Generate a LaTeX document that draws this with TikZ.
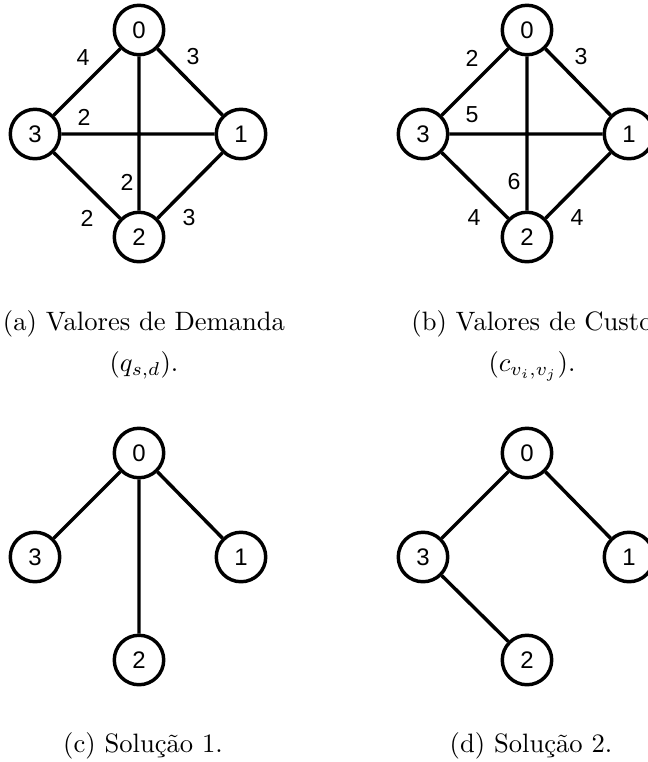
\documentclass[tikz,border=0pt]{standalone}
\usepackage{fontspec}
\newfontfamily\numfont{Liberation Sans}

\tikzset{
  vtx/.style={draw, circle, line width=1.3pt, minimum size=18.6pt, inner sep=0pt, font=\numfont\fontsize{9}{9}\selectfont},
  wgt/.style={font=\numfont\fontsize{8.7}{8.7}\selectfont, inner sep=0pt},
  edg/.style={line width=1.3pt},
  capt/.style={font=\fontsize{10}{15.4}\selectfont, align=center, inner sep=0pt}
}

\begin{document}
\begin{tikzpicture}[x=0.376pt, y=-0.376pt]
  \useasboundingbox (0,0) rectangle (648,762);

  %% (a) demand values
  \node[vtx] (a0) at (139,30)  {0};
  \node[vtx] (a1) at (241,134) {1};
  \node[vtx] (a2) at (139,237) {2};
  \node[vtx] (a3) at (35,134)  {3};
  \draw[edg] (a0) -- (a1) (a0) -- (a2) (a0) -- (a3) (a3) -- (a1) (a3) -- (a2) (a2) -- (a1);
  \node[wgt] (qa03) at (83,58)   {4};
  \node[wgt] (qa01) at (193,57)  {3};
  \node[wgt] (qa31) at (84,117)  {2};
  \node[wgt] (qa02) at (127,182) {2};
  \node[wgt] (qa32) at (87,218)  {2};
  \node[wgt] (qa21) at (189,218) {3};
  \node[capt, anchor=north] (capa) at (144,310) {(a) Valores de Demanda\\$(q_{s,d})$.};

  %% (b) cost values
  \begin{scope}[shift={(388,0)}]
    \node[vtx] (b0) at (139,30)  {0};
    \node[vtx] (b1) at (241,134) {1};
    \node[vtx] (b2) at (139,237) {2};
    \node[vtx] (b3) at (35,134)  {3};
    \draw[edg] (b0) -- (b1) (b0) -- (b2) (b0) -- (b3) (b3) -- (b1) (b3) -- (b2) (b2) -- (b1);
    \node[wgt] (cb03) at (84,58)   {2};
    \node[wgt] (cb01) at (193,57)  {3};
    \node[wgt] (cb31) at (84,115)  {5};
    \node[wgt] (cb02) at (126,182) {6};
    \node[wgt] (cb32) at (86,218)  {4};
    \node[wgt] (cb21) at (189,218) {4};
    \node[capt, anchor=north] (capb) at (144,310) {(b) Valores de Custo\\$(c_{v_i,v_j})$.};
  \end{scope}

  %% (c) first solution
  \begin{scope}[shift={(0,423)}]
    \node[vtx] (c0) at (139,30)  {0};
    \node[vtx] (c1) at (241,134) {1};
    \node[vtx] (c2) at (139,237) {2};
    \node[vtx] (c3) at (35,134)  {3};
    \draw[edg] (c0) -- (c3) (c0) -- (c1) (c0) -- (c2);
    \node[capt, anchor=base] (capc) at (143,329) {(c) Solução 1.};
  \end{scope}

  %% (d) second solution
  \begin{scope}[shift={(388,423)}]
    \node[vtx] (d0) at (139,30)  {0};
    \node[vtx] (d1) at (241,134) {1};
    \node[vtx] (d2) at (139,237) {2};
    \node[vtx] (d3) at (35,134)  {3};
    \draw[edg] (d0) -- (d3) (d0) -- (d1) (d3) -- (d2);
    \node[capt, anchor=base] (capd) at (143,329) {(d) Solução 2.};
  \end{scope}
\end{tikzpicture}
\end{document}
